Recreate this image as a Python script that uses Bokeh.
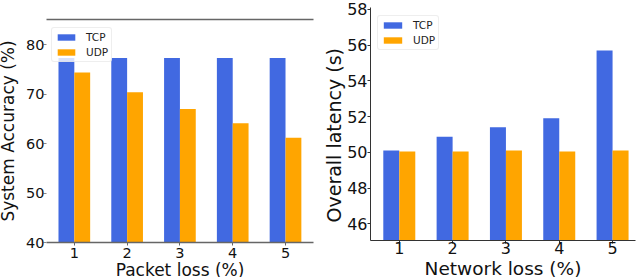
from bokeh.plotting import figure
from bokeh.models import ColumnDataSource, Range1d, LinearAxis, Legend, LegendItem, FixedTicker, Title
from bokeh.transform import dodge
from bokeh.embed import file_html
from bokeh.resources import INLINE

# ---- data ----
packet_loss = [1, 2, 3, 4, 5]
acc_tcp = [77.3, 77.3, 77.3, 77.3, 77.3]
acc_udp = [74.4, 70.4, 67.0, 64.1, 61.2]

network_loss = [1, 2, 3, 4, 5]
lat_tcp = [50.1, 50.87, 51.4, 51.9, 55.7]
lat_udp = [50.05, 50.05, 50.1, 50.05, 50.1]

acc_ticks = [40, 50, 60, 70, 80]
lat_ticks = [46, 48, 50, 52, 54, 56, 58]

TCP_COLOR = "#4169E1"
UDP_COLOR = "#FFA500"
FONT = "DejaVu Sans"


def style_axes(p, tick_size, label_size, yticks):
    for ax in (p.xaxis[0], p.yaxis[0]):
        ax.major_label_text_font = FONT
        ax.major_label_text_font_size = tick_size
        ax.major_label_text_color = "#111111"
        ax.axis_label_text_font = FONT
        ax.axis_label_text_font_size = label_size
        ax.axis_label_text_font_style = "normal"
        ax.axis_label_text_color = "#111111"
        ax.minor_tick_line_color = None
        ax.major_tick_in = 0
        ax.major_tick_out = 3
    p.xaxis[0].ticker = FixedTicker(ticks=[1, 2, 3, 4, 5])
    p.yaxis[0].ticker = FixedTicker(ticks=yticks)
    p.xgrid.grid_line_color = None
    p.ygrid.grid_line_color = None
    p.outline_line_color = None


def bars(p, xs, tcp, udp, loc, font_size, glyph_w, spacing):
    src = ColumnDataSource(dict(x=xs, tcp=tcp, udp=udp))
    r1 = p.vbar(x=dodge("x", -0.15), top="tcp", bottom=0, width=0.3, source=src,
                fill_color=TCP_COLOR, line_color=None)
    r2 = p.vbar(x=dodge("x", 0.15), top="udp", bottom=0, width=0.3, source=src,
                fill_color=UDP_COLOR, line_color=None)
    leg = Legend(items=[LegendItem(label="TCP", renderers=[r1]),
                        LegendItem(label="UDP", renderers=[r2])],
                 location=loc)
    leg.label_text_font = FONT
    leg.label_text_font_size = font_size
    leg.label_text_color = "#222222"
    leg.glyph_width = glyph_w
    leg.glyph_height = 8
    leg.label_height = 11
    leg.spacing = spacing
    leg.padding = 3
    leg.margin = 0
    leg.label_standoff = 9
    leg.border_line_color = "#dddddd"
    leg.border_radius = 3
    leg.background_fill_alpha = 0.8
    p.add_layout(leg)


# ---- left chart ----
p1 = figure(width=325, height=286, output_backend="svg", toolbar_location=None,
            x_range=Range1d(0.473, 5.53), y_range=Range1d(40, 85.1),
            min_border_left=46, min_border_right=7, min_border_top=19, min_border_bottom=44,
            styles={"position": "absolute", "left": "-5px", "top": "0px"})
bars(p1, packet_loss, acc_tcp, acc_udp, (5, 180), "10.5px", 22, 3)
style_axes(p1, "14.5px", "17px", acc_ticks)
p1.xaxis[0].axis_label = "Packet loss (%)"
p1.yaxis[0].axis_label = "System Accuracy (%)"
p1.xaxis[0].major_label_standoff = 2
p1.xaxis[0].axis_label_standoff = -1
p1.yaxis[0].major_label_standoff = -1
p1.yaxis[0].axis_label_standoff = 5
p1.yaxis[0].axis_line_color = None
p1.yaxis[0].major_tick_line_color = "#888888"
p1.xaxis[0].axis_line_color = "#666666"
p1.xaxis[0].axis_line_width = 1.3
p1.xaxis[0].major_tick_line_color = "#666666"
top_ax = LinearAxis(axis_line_color="#666666", axis_line_width=1.3,
                    major_tick_line_color=None, minor_tick_line_color=None,
                    major_label_text_font_size="0px", major_label_text_color=None)
top_ax.ticker = FixedTicker(ticks=[])
p1.add_layout(top_ax, "above")

# ---- right chart ----
p2 = figure(width=320, height=286, output_backend="svg", toolbar_location=None,
            x_range=Range1d(0.46, 5.43), y_range=Range1d(45.07, 58.1),
            min_border_left=50, min_border_right=5, min_border_top=7, min_border_bottom=46,
            styles={"position": "absolute", "left": "320px", "top": "0px"})
bars(p2, network_loss, lat_tcp, lat_udp, (7, 190), "10.5px", 23, 3)
style_axes(p2, "16px", "18.5px", lat_ticks)
p2.xaxis[0].axis_label = "Network loss (%)"
p2.xaxis[0].major_label_standoff = -2
p2.xaxis[0].axis_label_standoff = 1
p2.yaxis[0].major_label_standoff = 0
for ax in (p2.xaxis[0], p2.yaxis[0]):
    ax.axis_line_color = "#333333"
    ax.major_tick_line_color = "#333333"
ytitle2 = Title(text="Overall latency (s)", align="left", offset=18, standoff=0,
                text_font=FONT, text_font_size="19px", text_font_style="normal",
                text_color="#111111")
p2.add_layout(ytitle2, "left")

open("out.html", "w").write(file_html([p1, p2], INLINE))
